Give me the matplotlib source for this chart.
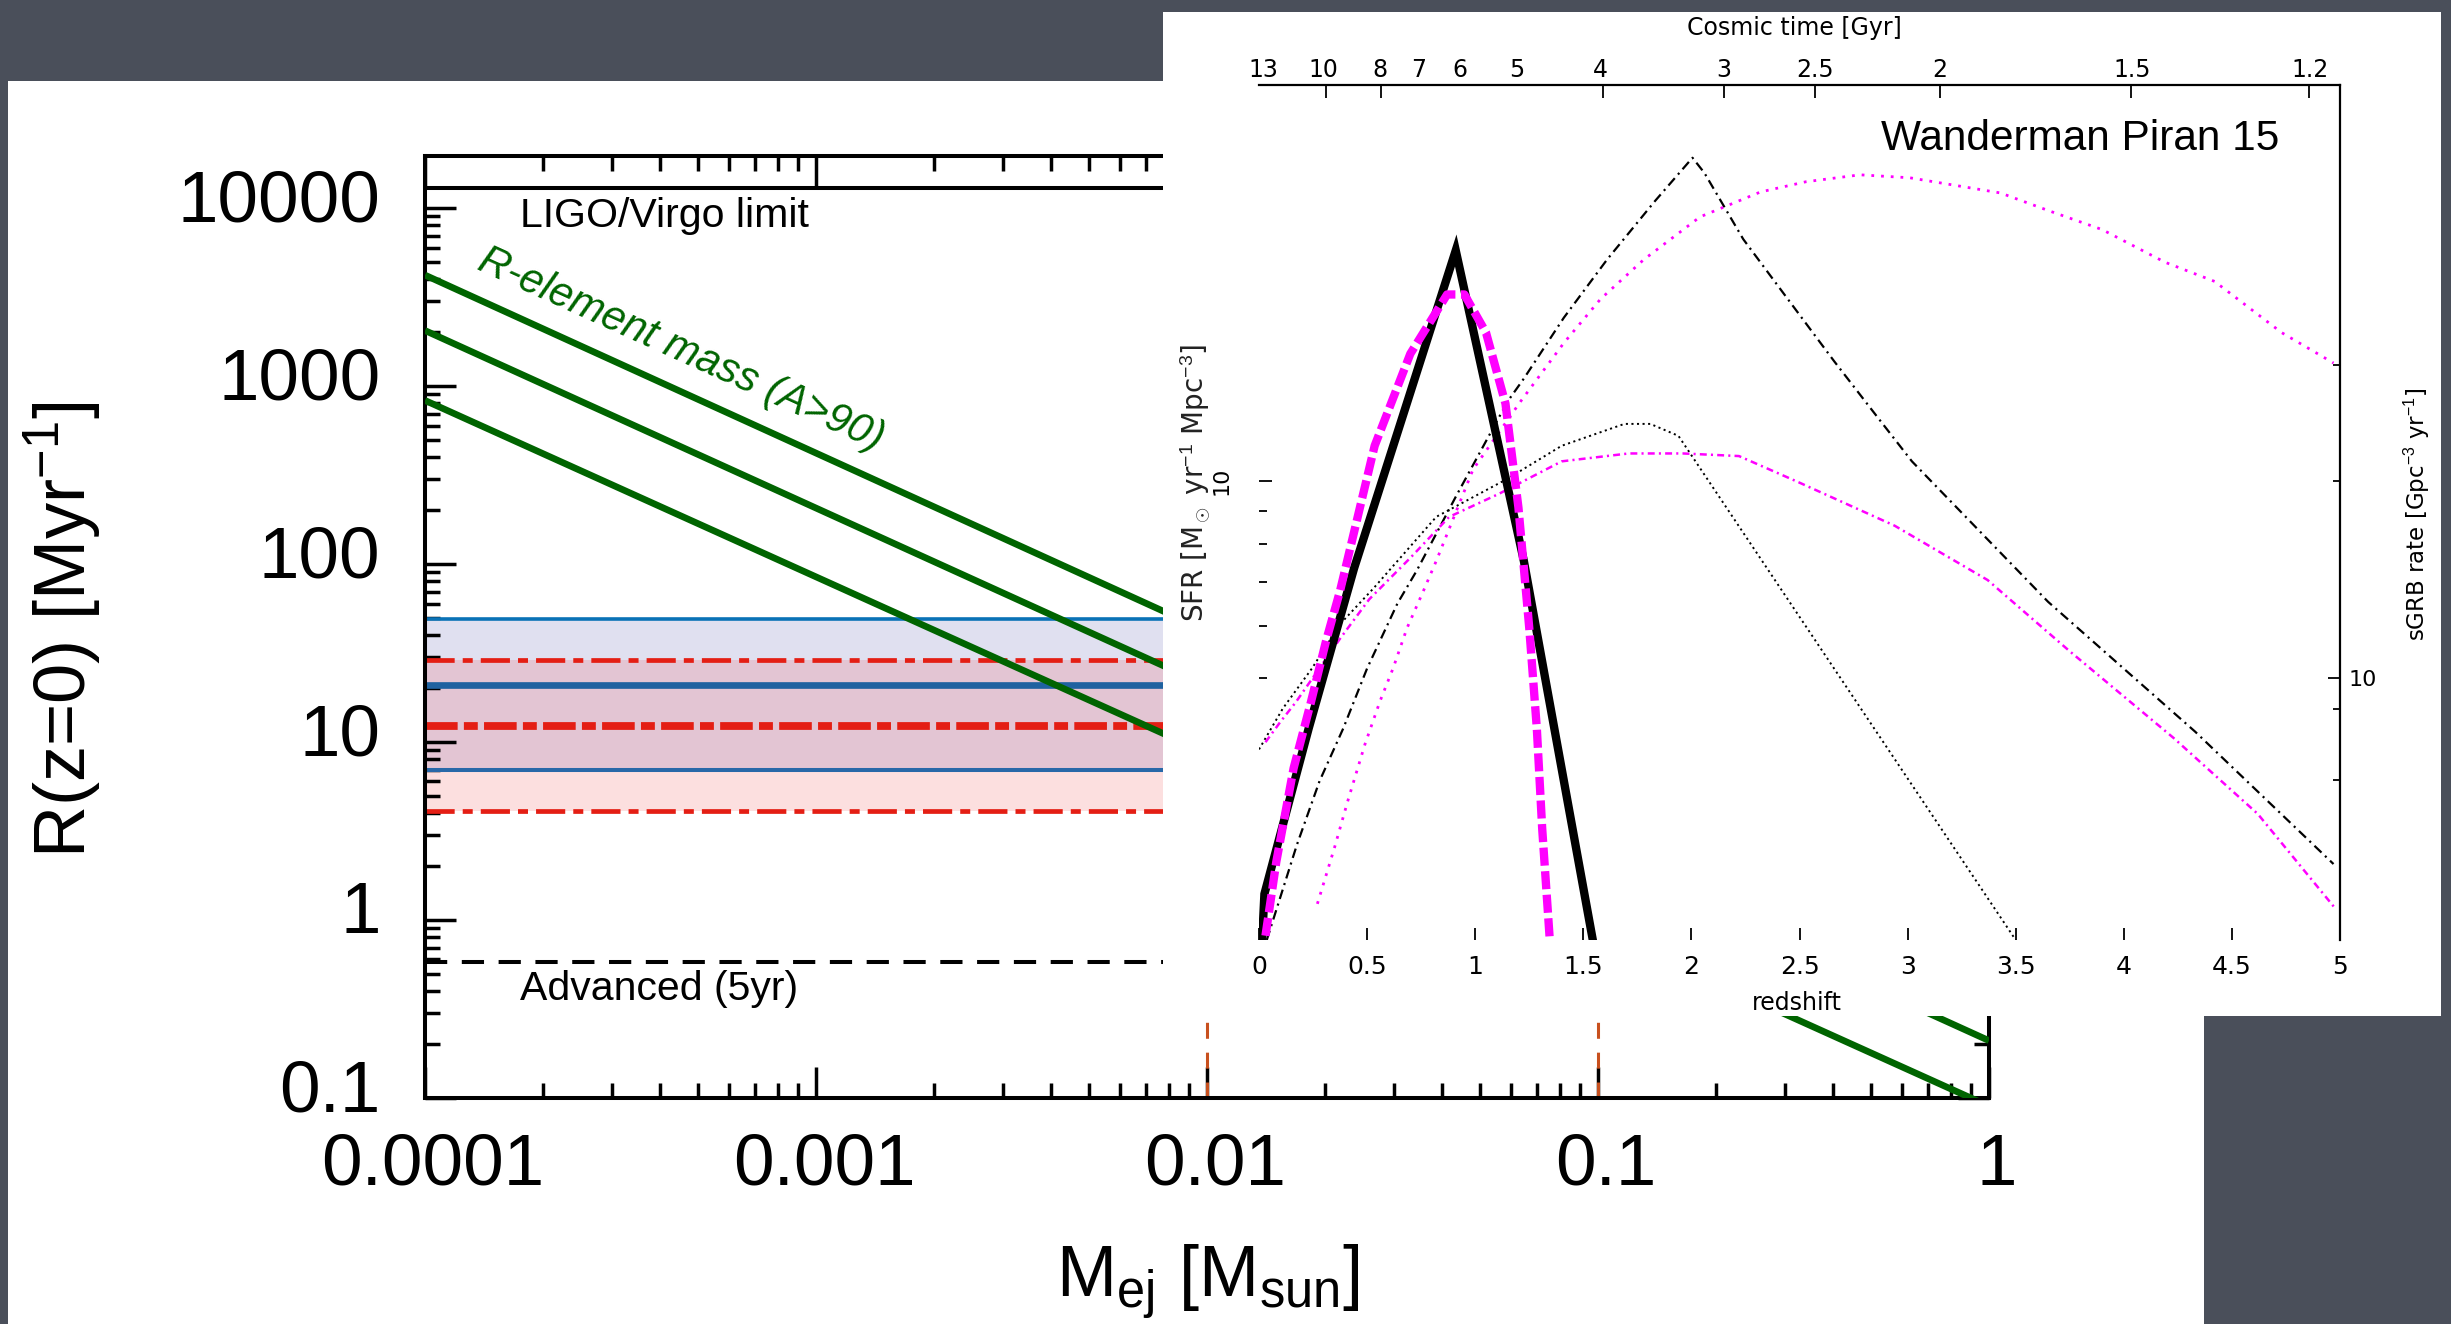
import numpy as np
import matplotlib
matplotlib.use('Agg')
import matplotlib.pyplot as plt
from matplotlib.patches import Rectangle
from matplotlib.ticker import LogLocator, FixedLocator, NullFormatter
from matplotlib.transforms import ScaledTranslation

plt.rcParams['font.family'] = ['Liberation Sans', 'DejaVu Sans']
plt.rcParams['mathtext.fontset'] = 'custom'
plt.rcParams['mathtext.rm'] = 'Liberation Sans'
plt.rcParams['mathtext.it'] = 'Liberation Sans:italic'
plt.rcParams['lines.scale_dashes'] = False

# ---- main panel: merger rate vs ejecta mass ----
mej_lim = [1e-4, 1.0]
rate_lim = [0.1, 1.96e4]
ligo_limit = 1.3e4
advanced_limit = 0.58
# r-element mass lines, rate at Mej = 1e-4 and at Mej = 1
rel_mej = [1e-4, 1.0]
rel_rates = [[4200, 0.42], [2050, 0.21], [830, 0.09]]
blue_rates = [7.0, 21.0, 49.0]   # low, mid, high
red_rates = [4.1, 12.3, 29.0]
mej_marks = [0.01, 0.1]
mej_ticks = [1e-4, 1e-3, 1e-2, 1e-1, 1]
mej_labels = ['0.0001', '0.001', '0.01', '0.1', '1']
rate_ticks = [0.1, 1, 10, 100, 1000, 10000]
rate_labels = ['0.1', '1', '10', '100', '1000', '10000']

# ---- inset: SFR / sGRB rate vs redshift ----
z_lim = [0, 5]
sfr_lim = [2.0, 40.0]
z_ticks = [0, 0.5, 1, 1.5, 2, 2.5, 3, 3.5, 4, 4.5, 5]
z_labels = ['0', '0.5', '1', '1.5', '2', '2.5', '3', '3.5', '4', '4.5', '5']
ct_z = [0.02, 0.30, 0.56, 0.74, 0.93, 1.19, 1.58, 2.15, 2.57, 3.15, 4.04, 4.86]
ct_labels = ['13', '10', '8', '7', '6', '5', '4', '3', '2.5', '2', '1.5', '1.2']
ct_marks = [0.31, 0.564, 1.59, 2.149, 2.574, 3.152, 4.034, 4.857]
sgrb_per_sfr = 2.0
sgrb_minor = [7, 9, 20, 30]
sfr_minor = [5, 6, 7, 8, 9]

z_solid = [0.0, 0.025, 0.23, 0.44, 0.91, 1.225, 1.55]
v_solid = [1.6, 2.35, 4.2, 7.36, 22.4, 7.55, 1.95]

z_dash = [0.03, 0.08, 0.16, 0.24, 0.31, 0.375, 0.535, 0.70, 0.87, 0.95,
          1.05, 1.14, 1.20, 1.25, 1.285, 1.31, 1.345]
v_dash = [2.03, 2.63, 3.65, 4.6, 5.7, 6.8, 11.3, 15.6, 19.2, 19.2,
          16.8, 13.1, 9.1, 5.97, 4.2, 2.95, 2.0]

z_dashdot = [0.036, 0.175, 0.28, 0.39, 0.5, 0.64, 0.73, 0.91, 1.15, 1.225,
             1.41, 1.61, 1.83, 2.005, 2.06, 2.24, 2.43, 2.66, 2.86, 3.02,
             3.65, 4.33, 4.97]
v_dashdot = [2.0, 2.79, 3.49, 4.2, 5.18, 6.5, 7.3, 9.45, 13.2, 14.3,
             17.7, 21.7, 26.6, 31.0, 29.4, 23.3, 19.2, 15.2, 12.5, 10.7,
             6.54, 4.15, 2.61]

z_mdot = [0.27, 0.35, 0.41, 0.49, 0.56, 0.62, 0.685, 0.76, 0.82, 0.99,
          1.21, 1.41, 1.58, 1.78, 2.04, 2.32, 2.53, 2.78, 3.01, 3.26,
          3.43, 3.66, 3.90, 4.19, 4.42, 4.73, 4.97]
v_mdot = [2.27, 2.77, 3.25, 3.97, 4.62, 5.18, 5.97, 6.79, 7.55, 10.4,
          13.2, 16.2, 18.9, 21.7, 25.2, 27.5, 28.5, 29.2, 28.9, 28.0,
          27.4, 25.7, 24.1, 21.5, 20.1, 16.8, 15.1]

z_kdot = [0.0, 0.11, 0.245, 0.375, 0.53, 0.82, 1.15, 1.40, 1.69, 1.81, 1.94, 3.5]
v_kdot = [3.9, 4.5, 5.18, 6.05, 6.86, 8.81, 10.07, 11.3, 12.2, 12.2, 11.7, 2.0]

z_mdashdot = [0.03, 0.1, 0.17, 0.375, 0.51, 0.70, 0.88, 1.11, 1.40, 1.71,
              1.96, 2.22, 2.5, 2.94, 3.37, 3.75, 4.23, 4.62, 4.98]
v_mdashdot = [4.0, 4.3, 4.6, 5.75, 6.6, 7.63, 8.81, 9.55, 10.7, 11.0,
              11.0, 10.9, 9.93, 8.54, 7.06, 5.5, 4.06, 3.11, 2.23]

W, H = 2451, 1324


def fig_box(x0, y0, x1, y1):
    return [x0 / W, 1 - y1 / H, (x1 - x0) / W, (y1 - y0) / H]


fig = plt.figure(figsize=(W / 100, H / 100), dpi=100, facecolor='#4a4f5a')

# white slide panels
fig.add_artist(Rectangle((8 / W, 0), (2204 - 8) / W, (H - 81) / H,
                         transform=fig.transFigure, facecolor='white',
                         edgecolor='none', zorder=-1))
fig.add_artist(Rectangle((1163 / W, 1 - 1016 / H), (2441 - 1163) / W, (1016 - 12) / H,
                         transform=fig.transFigure, facecolor='white',
                         edgecolor='none', zorder=5))

# ================= main plot =================
ax = fig.add_axes(fig_box(425, 156, 1989, 1098))
ax.set_xscale('log')
ax.set_yscale('log')
ax.set_xlim(mej_lim)
ax.set_ylim(rate_lim)

ax.fill_between(mej_lim, blue_rates[0], blue_rates[2], color='#e0e0f0', lw=0, zorder=1)
ax.fill_between(mej_lim, red_rates[0], red_rates[2], color=(0.953, 0.27, 0.27),
                alpha=0.167, lw=0, zorder=1.1)
ax.hlines(blue_rates, mej_lim[0], mej_lim[1], colors=['#2868a8', '#1f62a0', '#0a72b6'],
          linewidths=[2.9, 4.8, 2.6], zorder=2)
ax.axhline(red_rates[0], color='#e41e14', lw=3.4, dashes=(21, 5.8, 7.2, 5.8), zorder=2.5)
ax.axhline(red_rates[1], color='#e41e14', lw=5.6, dashes=(23.5, 4.5, 10, 4.5), zorder=2.5)
ax.axhline(red_rates[2], color='#e41e14', lw=3.4, dashes=(21, 5.8, 7.2, 5.8), zorder=2.5)

for xm in mej_marks:
    ax.axvline(xm, color='#c8501e', lw=2.2, dashes=(11.5, 10), zorder=2)

ax.axhline(ligo_limit, color='black', lw=2.9, zorder=3)
ax.axhline(advanced_limit, color='black', lw=2.9, dashes=(16, 10.5), zorder=3)

for r in rel_rates:
    ax.plot(rel_mej, r, color='#006400', lw=4.8, solid_capstyle='butt', zorder=4)

ax.text(0.0607, 0.936, 'LIGO/Virgo limit', transform=ax.transAxes,
        fontsize=29.5, ha='left', va='center')
ax.text(0.0607, 0.116, 'Advanced (5yr)', transform=ax.transAxes,
        fontsize=29.5, ha='left', va='center')
ax.text(0.1637, 0.794, 'R-element mass (A>90)', transform=ax.transAxes,
        fontsize=30, style='italic', color='#006400', rotation=-24.4,
        rotation_mode='anchor', ha='center', va='center')

ax.set_xticks(mej_ticks, labels=mej_labels)
ax.set_yticks(rate_ticks, labels=rate_labels)
ax.xaxis.set_minor_locator(LogLocator(base=10, subs=np.arange(2, 10), numticks=100))
ax.yaxis.set_minor_locator(LogLocator(base=10, subs=np.arange(2, 10), numticks=100))
ax.xaxis.set_minor_formatter(NullFormatter())
ax.yaxis.set_minor_formatter(NullFormatter())
ax.tick_params(which='both', direction='in', top=True, right=True, width=2.5, labelsize=52.5)
ax.tick_params(which='major', length=22)
ax.tick_params(which='minor', length=11)
ax.tick_params(axis='x', pad=25)
ax.tick_params(axis='y', pad=32)
for sp in ax.spines.values():
    sp.set_linewidth(2.9)

for lab in ax.get_yticklabels():
    lab.set_transform(lab.get_transform() + ScaledTranslation(0, 0.13, fig.dpi_scale_trans))
for lab in ax.get_xticklabels():
    lab.set_transform(lab.get_transform() + ScaledTranslation(0.08, 0, fig.dpi_scale_trans))

ax.text(-0.2315, 0.497, 'R(z=0) [Myr$^{-1}$]', rotation=90, transform=ax.transAxes,
        ha='center', va='center', fontsize=52)
ax.text(0.5006, -0.195, 'M$_\\mathrm{ej}$ [M$_\\mathrm{sun}$]', transform=ax.transAxes,
        ha='center', va='center', fontsize=52)

# ================= inset =================
ifont = 'DejaVu Sans'
ax2 = fig.add_axes(fig_box(1259, 85, 2340, 940))
ax2.set_zorder(6)
ax2.patch.set_alpha(0)
ax2.set_xlim(z_lim)
ax2.set_yscale('log')
ax2.set_ylim(sfr_lim)

ax2.plot(z_solid, v_solid, color='black', lw=6, solid_joinstyle='miter', zorder=5)
ax2.plot(z_dash, v_dash, color='#ff00ff', lw=6, dashes=(13, 4), zorder=6)
ax2.plot(z_dashdot, v_dashdot, color='black', lw=1.6, dashes=(7, 3.5, 1.5, 3.5))
ax2.plot(z_mdot, v_mdot, color='#ff00ff', lw=2, dashes=(2, 5))
ax2.plot(z_kdot, v_kdot, color='black', lw=1.4, dashes=(1.5, 2.5))
ax2.plot(z_mdashdot, v_mdashdot, color='#ff00ff', lw=1.8, dashes=(5, 3, 1.5, 3))

for side in ['left', 'bottom', 'top', 'right']:
    ax2.spines[side].set_visible(False)

ax2.set_xticks(z_ticks, labels=z_labels)
ax2.tick_params(axis='x', direction='in', length=9, width=1.3, pad=11, labelsize=18)
for lab in ax2.get_xticklabels():
    lab.set_fontfamily(ifont)

ax2.set_yticks([10], labels=['10'])
ax2.yaxis.set_minor_locator(FixedLocator(sfr_minor))
ax2.yaxis.set_minor_formatter(NullFormatter())
ax2.tick_params(axis='y', which='both', direction='in', width=1.3, pad=20,
                labelsize=16, labelrotation=90)
ax2.tick_params(axis='y', which='major', length=9)
ax2.tick_params(axis='y', which='minor', length=6)
for lab in ax2.get_yticklabels():
    lab.set_fontfamily(ifont)
    lab.set_va('center')

# cosmic time axis: labels on majors, tick marks only where the original has them
top = ax2.secondary_xaxis('top')
top.set_xticks(ct_z, labels=ct_labels)
top.xaxis.set_minor_locator(FixedLocator(ct_marks))
top.xaxis.set_minor_formatter(NullFormatter())
top.tick_params(which='major', direction='in', length=0, pad=2, labelsize=17)
top.tick_params(which='minor', direction='in', length=9, width=1.3)
top.spines['top'].set_linewidth(1.6)
for lab in top.get_xticklabels():
    lab.set_fontfamily(ifont)


def sfr_to_sgrb(v):
    return v * sgrb_per_sfr


def sgrb_to_sfr(v):
    return v / sgrb_per_sfr


right = ax2.secondary_yaxis('right', functions=(sfr_to_sgrb, sgrb_to_sfr))
right.set_yticks([10], labels=['10'])
right.yaxis.set_minor_locator(FixedLocator(sgrb_minor))
right.yaxis.set_minor_formatter(NullFormatter())
right.tick_params(which='both', direction='in', width=1.3, pad=6, labelsize=16)
right.tick_params(which='major', length=9)
right.tick_params(which='minor', length=5)
right.spines['right'].set_linewidth(1.6)
for lab in right.get_yticklabels():
    lab.set_fontfamily(ifont)

ax2.text(0.498, -0.074, 'redshift', transform=ax2.transAxes, ha='center', va='center',
         fontsize=17, fontfamily=ifont)
ax2.text(0.495, 1.0667, 'Cosmic time [Gyr]', transform=ax2.transAxes, ha='center',
         va='center', fontsize=17, fontfamily=ifont)
ax2.text(1.071, 0.498, 'sGRB rate [Gpc$^{-3}$ yr$^{-1}$]', transform=ax2.transAxes,
         rotation=90, ha='center', va='center', fontsize=16.5, fontfamily=ifont)
ax2.text(-0.058, 0.5345, 'SFR [M$_\\odot$ yr$^{-1}$ Mpc$^{-3}$]', transform=ax2.transAxes,
         rotation=90, ha='center', va='center', fontsize=20, fontfamily=ifont,
         color='#222222')
ax2.text(0.575, 0.937, 'Wanderman Piran 15', transform=ax2.transAxes, ha='left',
         va='center', fontsize=30.5, fontfamily='Liberation Sans')

fig.savefig('out.png', dpi=100, facecolor=fig.get_facecolor())
